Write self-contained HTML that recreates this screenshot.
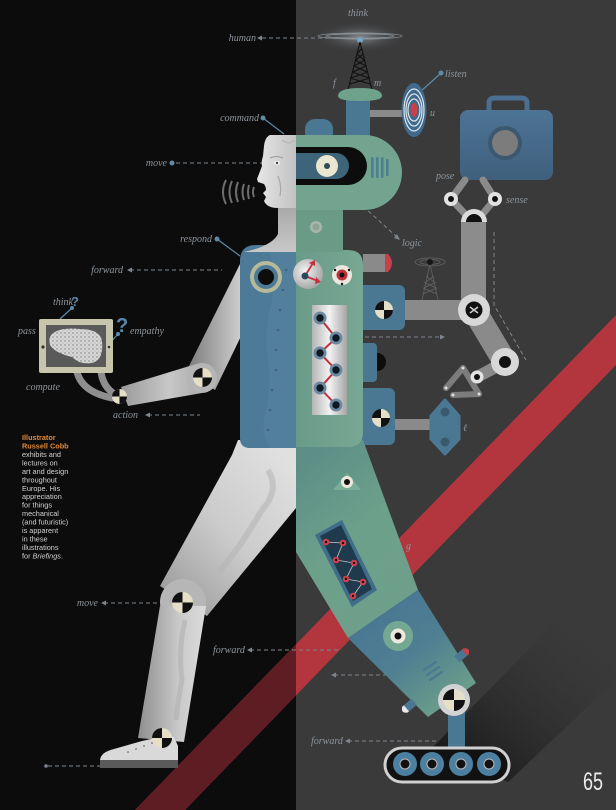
<!DOCTYPE html>
<html><head><meta charset="utf-8"><style>
html,body{margin:0;padding:0;background:#0c0c0d;}
svg{display:block;}
.lb{font-family:"Liberation Serif",serif;font-style:italic;fill:#8e959b;font-size:10px;}
.bt{font-family:"Liberation Sans",sans-serif;font-size:7.3px;fill:#d2d2d2;}
</style></head><body>
<svg width="616" height="810" viewBox="0 0 616 810" xmlns="http://www.w3.org/2000/svg">
<defs>
<symbol id="xd" viewBox="-10 -10 20 20"><circle r="10" fill="#e4dfc6"/><path d="M0,0 L-10,0 A10,10 0 0 1 0,-10 Z" fill="#111"/><path d="M0,0 L10,0 A10,10 0 0 1 0,10 Z" fill="#111"/></symbol>
<clipPath id="leftc"><rect x="0" y="0" width="296" height="810"/></clipPath>
<linearGradient id="shad" x1="470" y1="770" x2="600" y2="620" gradientUnits="userSpaceOnUse"><stop offset="0" stop-color="#1c1c1d"/><stop offset="1" stop-color="#3a3a3b" stop-opacity="0"/></linearGradient>
<linearGradient id="face" x1="0" y1="0" x2="1" y2="0"><stop offset="0" stop-color="#e6e6e6"/><stop offset="1" stop-color="#c2c2c2"/></linearGradient>
<linearGradient id="neck" x1="0" y1="0" x2="0" y2="1"><stop offset="0" stop-color="#a8a8a8"/><stop offset="1" stop-color="#c8c8c8"/></linearGradient>
<linearGradient id="arm" x1="0" y1="0" x2="1" y2="0"><stop offset="0" stop-color="#7a7a7a"/><stop offset="1" stop-color="#d2d2d2"/></linearGradient>
<linearGradient id="fore" x1="0" y1="0" x2="1" y2="0"><stop offset="0" stop-color="#9a9a9a"/><stop offset="0.6" stop-color="#c8c8c8"/><stop offset="1" stop-color="#a9a9a9"/></linearGradient>
<linearGradient id="thigh" x1="160" y1="600" x2="296" y2="470" gradientUnits="userSpaceOnUse"><stop offset="0" stop-color="#9a9a9a"/><stop offset="0.5" stop-color="#cbcbcb"/><stop offset="1" stop-color="#e0e0e0"/></linearGradient>
<linearGradient id="shin" x1="0" y1="0" x2="1" y2="0"><stop offset="0" stop-color="#8e8e8e"/><stop offset="0.6" stop-color="#c9c9c9"/><stop offset="1" stop-color="#dcdcdc"/></linearGradient>
<linearGradient id="panel" x1="0" y1="0" x2="1" y2="0"><stop offset="0" stop-color="#b5b5b5"/><stop offset="0.5" stop-color="#f2f2f2"/><stop offset="1" stop-color="#a5a5a5"/></linearGradient>
<linearGradient id="green" x1="0" y1="0" x2="1" y2="0"><stop offset="0" stop-color="#699b89"/><stop offset="1" stop-color="#78a894"/></linearGradient>
<linearGradient id="rleg" x1="296" y1="470" x2="410" y2="600" gradientUnits="userSpaceOnUse"><stop offset="0" stop-color="#5d8f86"/><stop offset="0.5" stop-color="#6da08b"/><stop offset="1" stop-color="#6e9f8b"/></linearGradient>
<linearGradient id="lleg" x1="383" y1="614" x2="452" y2="700" gradientUnits="userSpaceOnUse"><stop offset="0" stop-color="#4a7893"/><stop offset="0.45" stop-color="#4f7f92"/><stop offset="1" stop-color="#6a9d8a"/></linearGradient>
<linearGradient id="case" x1="0" y1="0" x2="0" y2="1"><stop offset="0" stop-color="#4d7395"/><stop offset="1" stop-color="#3f607d"/></linearGradient>
<radialGradient id="glow" cx="0.5" cy="0.5" r="0.5"><stop offset="0" stop-color="#bfc8cf" stop-opacity="0.55"/><stop offset="1" stop-color="#3a3a3b" stop-opacity="0"/></radialGradient>
<radialGradient id="gauge" cx="0.4" cy="0.4" r="0.6"><stop offset="0" stop-color="#f4f4f4"/><stop offset="1" stop-color="#a9a9a9"/></radialGradient>
<pattern id="speck" width="4" height="4" patternUnits="userSpaceOnUse"><rect width="4" height="4" fill="#d6d6d6"/><circle cx="1" cy="1" r="0.7" fill="#7a7a7a"/><circle cx="3" cy="3" r="0.5" fill="#999"/></pattern>
</defs>

<!-- backgrounds -->
<rect x="0" y="0" width="296" height="810" fill="#0c0c0d"/>
<rect x="296" y="0" width="320" height="810" fill="#3a3a3b"/>

<!-- shadow -->
<polygon points="432,748 616,560 616,680 508,782" fill="url(#shad)"/>

<!-- red stripe -->
<polygon points="616,315 616,365 185,810 135,810" fill="#b3363f"/>
<polygon points="616,315 616,365 185,810 135,810" fill="#5e1c23" clip-path="url(#leftc)"/>

<!-- dashed connectors -->
<g stroke="#7d868e" stroke-width="1" stroke-dasharray="4,3" fill="none">
<line x1="262" y1="38" x2="330" y2="38"/>
<line x1="176" y1="163" x2="264" y2="163"/>
<line x1="130" y1="270" x2="222" y2="270"/>
<line x1="148" y1="415" x2="200" y2="415"/>
<line x1="104" y1="603" x2="158" y2="603"/>
<line x1="48" y1="766" x2="100" y2="766"/>
<line x1="250" y1="650" x2="341" y2="650"/>
<line x1="334" y1="675" x2="390" y2="675"/>
<line x1="348" y1="741" x2="438" y2="741"/>
<line x1="365" y1="337" x2="440" y2="337"/>
<line x1="332" y1="178" x2="398" y2="238"/>
<polyline points="494,232 494,305 526,360"/>
</g>
<g fill="#7d868e">
<polygon points="257,38 262,35.5 262,40.5"/>
<polygon points="127,270 132,267.5 132,272.5"/>
<polygon points="145,415 150,412.5 150,417.5"/>
<polygon points="101,603 106,600.5 106,605.5"/>
<circle cx="46" cy="766" r="1.8"/>
<polygon points="247,650 252,647.5 252,652.5"/>
<polygon points="331,675 336,672.5 336,677.5"/>
<polygon points="345,741 350,738.5 350,743.5"/>
<polygon points="445,337 440,334.5 440,339.5"/>
<polygon points="400,240 394,238 397,234"/>
</g>
<!-- solid connectors with dots -->
<g stroke="#5f8aa6" stroke-width="1.2">
<line x1="263" y1="118" x2="284" y2="134"/>
<line x1="217" y1="239" x2="240" y2="256"/>
<line x1="420" y1="92" x2="440" y2="74"/>
<line x1="72" y1="308" x2="60" y2="319"/>
<line x1="118" y1="334" x2="110" y2="343"/>
</g>
<g fill="#5f8aa6">
<circle cx="263" cy="118" r="2.5"/><circle cx="172" cy="163" r="2.5"/><circle cx="217" cy="239" r="2.5"/>
<circle cx="441" cy="73" r="2.5"/><circle cx="72" cy="308" r="2"/><circle cx="118" cy="334" r="2"/>
</g>

<!-- labels -->
<text class="lb" x="358" y="16" text-anchor="middle" font-size="11">think</text>
<text class="lb" x="256" y="41" text-anchor="end">human</text>
<text class="lb" x="259" y="121" text-anchor="end">command</text>
<text class="lb" x="167" y="166" text-anchor="end">move</text>
<text class="lb" x="212" y="242" text-anchor="end" font-size="9">respond</text>
<text class="lb" x="123" y="273" text-anchor="end">forward</text>
<text class="lb" x="53" y="305" font-size="8">think</text>
<text x="71" y="306" font-family="Liberation Sans,sans-serif" font-weight="bold" font-size="13" fill="#5a86ab">?</text>
<text class="lb" x="18" y="334" font-size="9">pass</text>
<text x="116" y="332" font-family="Liberation Sans,sans-serif" font-weight="bold" font-size="20" fill="#5a86ab">?</text>
<text class="lb" x="130" y="334" font-size="9">empathy</text>
<text class="lb" x="26" y="390">compute</text>
<text class="lb" x="113" y="418">action</text>
<text class="lb" x="98" y="606" text-anchor="end" font-size="9">move</text>
<text class="lb" x="213" y="653" font-size="9">forward</text>
<text class="lb" x="311" y="744" font-size="9">forward</text>
<text class="lb" x="445" y="77">listen</text>
<text class="lb" x="333" y="86">f</text>
<text class="lb" x="374" y="86">m</text>
<text class="lb" x="430" y="116">u</text>
<text class="lb" x="436" y="179" font-size="9">pose</text>
<text class="lb" x="506" y="203" font-size="9">sense</text>
<text class="lb" x="402" y="246" font-size="9">logic</text>
<text class="lb" x="353" y="413" font-size="9">a</text>
<text class="lb" x="463" y="431" font-size="14">ℓ</text>
<text class="lb" x="361" y="486">b</text>
<text class="lb" x="406" y="549">g</text>

<!-- think glow & antenna -->
<ellipse cx="360" cy="37" rx="48" ry="16" fill="url(#glow)"/>
<g fill="none" stroke="#9aa3a9" stroke-width="0.8" opacity="0.8">
<ellipse cx="360" cy="36" rx="42" ry="3"/><ellipse cx="360" cy="36" rx="34" ry="2.2"/>
</g>
<circle cx="360" cy="40" r="3" fill="#6fa6c9"/>
<g stroke="#111" stroke-width="1.1" fill="none">
<polyline points="348,90 360,42 372,90"/>
<path d="M350,84 L370,78 M351,78 L368,72 M353,72 L366,66 M354,66 L365,60 M356,60 L363,54 M357,54 L362,48 M370,84 L350,78 M369,78 L352,72 M367,72 L354,66 M366,66 L355,60 M364,60 L357,54"/>
</g>
<!-- knob / column behind head -->
<rect x="305" y="119" width="28" height="24" rx="10" fill="#4a7893"/>
<rect x="346" y="94" width="24" height="44" fill="#4a7893"/>
<path d="M338,96 Q338,88 360,88 Q382,88 382,96 Q382,101 360,101 Q338,101 338,96 Z" fill="#6fa28c"/>
<rect x="370" y="110" width="34" height="7" fill="#8a8a8a"/>
<ellipse cx="414" cy="110" rx="12.5" ry="27" fill="#3f6a8c"/>
<g fill="none" stroke="#dfe6ec" stroke-width="1.2">
<ellipse cx="414" cy="110" rx="10" ry="21"/><ellipse cx="414" cy="110" rx="8" ry="16"/><ellipse cx="414" cy="110" rx="6" ry="11"/>
</g>
<ellipse cx="414" cy="110" rx="3.5" ry="7" fill="#c8404a"/>

<!-- briefcase & claw -->
<path d="M489,111 V103 Q489,98 495,98 H521 Q527,98 527,103 V111" fill="none" stroke="#4a6f90" stroke-width="5"/>
<rect x="460" y="110" width="93" height="70" rx="8" fill="url(#case)"/>
<circle cx="505" cy="143" r="17" fill="#3b5870"/>
<circle cx="505" cy="143" r="13" fill="#7c7c7c"/>
<g stroke="#8a8a8a" stroke-width="7" stroke-linecap="round">
<line x1="467" y1="216" x2="451" y2="199"/><line x1="451" y1="199" x2="465" y2="180"/>
<line x1="481" y1="216" x2="495" y2="199"/><line x1="495" y1="199" x2="483" y2="180"/>
</g>
<circle cx="451" cy="199" r="7" fill="#e2e2e2"/><circle cx="451" cy="199" r="3" fill="#111"/>
<circle cx="495" cy="199" r="7" fill="#e2e2e2"/><circle cx="495" cy="199" r="3" fill="#111"/>
<rect x="461" y="220" width="25" height="92" fill="#8c8c8c"/>
<path d="M461,222 A13,13 0 0 1 487,222 Z" fill="#dcdcdc"/>
<path d="M466,222 A8,8 0 0 1 482,222 Z" fill="#111"/>

<!-- small tower -->
<g stroke="#5c5c5c" stroke-width="1" fill="none">
<ellipse cx="430" cy="262" rx="15" ry="4"/><ellipse cx="430" cy="262" rx="10" ry="2.5"/>
<polyline points="422,300 430,264 438,300"/>
<path d="M423,294 L437,288 M424,288 L436,282 M426,282 L434,276 M437,294 L423,288 M436,288 L424,282 M434,282 L426,276"/>
</g>
<circle cx="430" cy="262" r="3" fill="#151515"/>

<!-- right arm -->
<rect x="400" y="300" width="74" height="20" fill="#8a8a8a"/>
<line x1="474" y1="310" x2="505" y2="362" stroke="#8a8a8a" stroke-width="24"/>
<line x1="505" y1="362" x2="477" y2="377" stroke="#8a8a8a" stroke-width="12"/>
<circle cx="474" cy="310" r="16" fill="#d8d8d8"/><circle cx="474" cy="310" r="8.5" fill="#111"/>
<path d="M470,307 L478,313 M478,307 L470,313" stroke="#ccc" stroke-width="1.5"/>
<circle cx="505" cy="362" r="14" fill="#d8d8d8"/><circle cx="505" cy="362" r="6" fill="#111"/>
<g stroke="#7c7c7c" stroke-width="6" stroke-linecap="round">
<line x1="463" y1="368" x2="446" y2="388"/><line x1="463" y1="368" x2="479" y2="394"/><line x1="453" y1="395" x2="479" y2="394"/>
</g>
<circle cx="477" cy="377" r="6.5" fill="#e2e2e2"/><circle cx="477" cy="377" r="3" fill="#111"/>
<g fill="#ddd"><circle cx="463" cy="368" r="1.5"/><circle cx="446" cy="388" r="1.5"/><circle cx="453" cy="395" r="1.5"/><circle cx="479" cy="394" r="1.5"/></g>

<!-- side boxes -->
<rect x="363" y="254" width="22" height="18" fill="#8a8a8a"/>
<path d="M385,254 H388 Q396,263 388,272 H385 Z" fill="#c8404a"/>
<rect x="358" y="285" width="47" height="45" rx="6" fill="#4a7893"/>
<use href="#xd" x="375" y="301" width="18" height="18"/>
<path d="M376,353 A9,9 0 0 1 376,371 Z" fill="#0d0d0d"/>
<rect x="358" y="343" width="19" height="39" rx="4" fill="#4a7893"/>
<path d="M377,353 A9,9 0 0 1 377,371 Z" fill="#0d0d0d"/>
<rect x="395" y="419" width="43" height="11" fill="#8a8a8a"/>
<rect x="358" y="388" width="37" height="57" rx="6" fill="#4a7893"/>
<use href="#xd" x="372" y="409" width="18" height="18"/>
<polygon points="445,400 459,416 459,439 445,454 431,439 431,416" fill="#4a7893" stroke="#4a7893" stroke-width="3" stroke-linejoin="round"/>
<circle cx="445" cy="412" r="4.5" fill="#39596f"/><circle cx="445" cy="442" r="4.5" fill="#39596f"/>

<!-- human leg -->
<polygon points="238,440 296,440 296,508 207,616 160,586 232,455" fill="url(#thigh)"/>
<path d="M268,470 Q280,490 262,510 Q250,530 240,545 Q228,560 220,572" stroke="#b5b5b5" stroke-width="6" fill="none" opacity="0.6"/>
<circle cx="183" cy="602" r="23" fill="#b6b6b6"/>
<polygon points="160,606 206,606 184,742 138,738" fill="url(#shin)"/>
<path d="M185,620 Q178,650 182,680 Q178,700 176,720" stroke="#b0b0b0" stroke-width="5" fill="none" opacity="0.6"/>
<use href="#xd" x="172" y="592" width="21" height="21"/>
<path d="M100,760 Q101,752 114,749 L142,741 L160,737 L174,737 L178,746 L178,762 L100,762 Z" fill="#d9d9d9"/>
<rect x="100" y="760" width="78" height="8" fill="#5a5a5a"/>
<g fill="#888"><circle cx="128" cy="752" r="1"/><circle cx="136" cy="749" r="1"/><circle cx="144" cy="746" r="1"/><circle cx="152" cy="743" r="1"/></g>
<use href="#xd" x="152" y="728" width="20" height="20"/>

<!-- robot leg -->
<polygon points="296,440 363,440 418,590 348,638 296,552" fill="url(#rleg)"/>
<polygon points="348,638 418,590 476,683 428,717" fill="url(#lleg)"/>
<path d="M333,490 L347,473 L361,490 Z" fill="#7bae98"/>
<circle cx="347" cy="482" r="6" fill="#ece8dc"/><circle cx="347" cy="482" r="3" fill="#111"/>
<polygon points="315,535 342,520 377,590 352,607" fill="#3f6d8a"/>
<polygon points="320,536 341,525 372,589 353,601" fill="#1f3a4d"/>
<g stroke="#c8c8c8" stroke-width="0.8" fill="none"><polyline points="326,542 343,543 336,560 354,563 346,579 363,582 353,596"/></g>
<g fill="#d2404c"><circle cx="326" cy="542" r="3.3"/><circle cx="343" cy="543" r="3.3"/><circle cx="336" cy="560" r="3.3"/><circle cx="354" cy="563" r="3.3"/><circle cx="346" cy="579" r="3.3"/><circle cx="363" cy="582" r="3.3"/><circle cx="353" cy="596" r="3.3"/></g>
<g fill="#111"><circle cx="326" cy="542" r="1.2"/><circle cx="343" cy="543" r="1.2"/><circle cx="336" cy="560" r="1.2"/><circle cx="354" cy="563" r="1.2"/><circle cx="346" cy="579" r="1.2"/><circle cx="363" cy="582" r="1.2"/><circle cx="353" cy="596" r="1.2"/></g>
<circle cx="398" cy="636" r="15" fill="#74a892"/>
<circle cx="398" cy="636" r="7.5" fill="#ece8dc"/><circle cx="398" cy="636" r="3.5" fill="#111"/>
<g stroke="#4a7893" stroke-width="2.2" stroke-linecap="round">
<line x1="424" y1="670" x2="436" y2="662"/><line x1="427" y1="675" x2="439" y2="667"/><line x1="430" y1="680" x2="442" y2="672"/>
</g>
<g transform="translate(463,654) rotate(-40)"><rect x="-8" y="-4" width="10" height="8" fill="#4a7893"/><path d="M2,-4 H4 Q10,0 4,4 H2 Z" fill="#c8404a"/></g>
<g transform="translate(408,707) rotate(140)"><rect x="-8" y="-4" width="10" height="8" fill="#4a7893"/><path d="M2,-4 H4 Q10,0 4,4 H2 Z" fill="#e8e8e8"/></g>
<rect x="448" y="700" width="17" height="50" fill="#4a7893"/>
<circle cx="454" cy="700" r="16" fill="#d2d2d2"/>
<use href="#xd" x="443" y="689" width="22" height="22"/>
<rect x="385" y="748" width="124" height="34" rx="17" fill="#111" stroke="#d0d0d0" stroke-width="3"/>
<g fill="#4d7fa0"><circle cx="405" cy="764" r="12"/><circle cx="432" cy="764" r="12"/><circle cx="461" cy="764" r="12"/><circle cx="489" cy="764" r="12"/></g>
<g fill="#111" stroke="#bbb" stroke-width="1"><circle cx="405" cy="764" r="5"/><circle cx="432" cy="764" r="5"/><circle cx="461" cy="764" r="5"/><circle cx="489" cy="764" r="5"/></g>

<!-- human upper arm (behind torso) -->
<polygon points="244,256 244,330 215,390 186,372" fill="url(#arm)"/>
<!-- torso -->
<path d="M256,245 H296 V448 H250 Q240,448 240,438 V261 Q240,245 256,245 Z" fill="#4d7a97"/>
<path d="M296,250 H268 Q276,270 272,300 Q264,330 268,360 Q272,390 264,420 Q262,438 270,448 H296 Z" fill="#5785a0" opacity="0.55"/>
<g fill="#3d6581"><circle cx="286" cy="270" r="1.3"/><circle cx="283" cy="290" r="1.3"/><circle cx="280" cy="310" r="1.3"/><circle cx="278" cy="330" r="1.3"/><circle cx="276" cy="350" r="1.3"/><circle cx="276" cy="370" r="1.3"/><circle cx="272" cy="390" r="1.3"/><circle cx="270" cy="410" r="1.3"/><circle cx="268" cy="430" r="1.3"/></g>
<circle cx="266" cy="277" r="16" fill="#b8b999"/>
<circle cx="266" cy="277" r="12" fill="#4d7a97"/>
<circle cx="266" cy="277" r="8" fill="#0d0d0d"/>
<path d="M296,250 H348 Q363,250 363,265 V432 Q363,447 348,447 H296 Z" fill="url(#green)"/>
<rect x="296" y="208" width="47" height="44" fill="#6a9b87"/>
<circle cx="316" cy="227" r="6" fill="#a8b5aa"/><circle cx="316" cy="227" r="3.5" fill="#8fa496"/>
<circle cx="308" cy="274" r="15" fill="url(#gauge)"/>
<g stroke="#c8303c" stroke-width="1.8"><line x1="305" y1="276" x2="313" y2="263"/><line x1="305" y1="276" x2="318" y2="281"/></g>
<polygon points="315,260 309,263 315,266" fill="#c8303c"/>
<polygon points="321,282 316,277 315,284" fill="#c8303c"/>
<circle cx="305" cy="276" r="3.5" fill="#2a4a5c"/>
<circle cx="342" cy="275" r="10" fill="#ebe7df"/>
<circle cx="342" cy="275" r="5.5" fill="#c0303a"/><circle cx="342" cy="275" r="2.5" fill="#111"/>
<g fill="#111"><circle cx="335" cy="270" r="1.2"/><circle cx="349" cy="270" r="1.2"/><circle cx="342" cy="284" r="1.2"/></g>
<rect x="312" y="305" width="35" height="110" fill="url(#panel)"/>
<g stroke="#c0303a" stroke-width="2" fill="none"><polyline points="320,318 336,338 320,353 336,370 320,388 336,405"/></g>
<g fill="#6b8aa2"><circle cx="320" cy="318" r="6.5"/><circle cx="336" cy="338" r="6.5"/><circle cx="320" cy="353" r="6.5"/><circle cx="336" cy="370" r="6.5"/><circle cx="320" cy="388" r="6.5"/><circle cx="336" cy="405" r="6.5"/></g>
<g fill="#0f1820"><circle cx="320" cy="318" r="3.7"/><circle cx="336" cy="338" r="3.7"/><circle cx="320" cy="353" r="3.7"/><circle cx="336" cy="370" r="3.7"/><circle cx="320" cy="388" r="3.7"/><circle cx="336" cy="405" r="3.7"/></g>

<!-- robot head -->
<path d="M296,135 H364.5 A37.5,37.5 0 0 1 364.5,210 H296 Z" fill="#72a48f"/>
<path d="M296,147 H348 A19,19 0 0 1 348,185 H296 Z" fill="#0d0d0d"/>
<path d="M296,153 H336 A13,13 0 0 1 336,179 H296 Z" fill="#3d6478"/>
<circle cx="327" cy="166" r="11" fill="#ebe6cf"/><circle cx="327" cy="166" r="3" fill="#2d4a5a"/>
<g fill="#4b8090"><rect x="371" y="157" width="2.6" height="21" rx="1.3"/><rect x="376" y="157" width="2.6" height="21" rx="1.3"/><rect x="381" y="157" width="2.6" height="21" rx="1.3"/><rect x="386" y="159" width="2.6" height="17" rx="1.3"/></g>

<!-- human head & neck -->
<path d="M278,206 H296 V252 H244 Q272,246 278,234 Z" fill="url(#neck)"/>
<path d="M296,135 H270 Q265,137 264,146 L263,156 Q261,162 262,166 L257,179 L258,182 L264,184 Q266,187 266,190 L263,193 L266,197 L264,201 Q267,208 278,208 H296 Z" fill="url(#face)"/>
<path d="M270,158 Q276,155 283,158" stroke="#9a9a9a" stroke-width="1" fill="none"/>
<ellipse cx="277" cy="163" rx="3" ry="2" fill="#f3f3f3"/><circle cx="277" cy="163" r="1.2" fill="#444"/>
<path d="M278,176 Q282,186 280,196" stroke="#a8a8a8" stroke-width="1.2" fill="none"/>
<path d="M282,140 Q290,146 294,140" stroke="#b0b0b0" stroke-width="1" fill="none"/>
<!-- sound waves -->
<g fill="none" stroke="#6e6e6e" stroke-width="2">
<path d="M226,180 Q220,192 226,204"/><path d="M232,181 Q227,192 232,203"/><path d="M238,182 Q234,192 238,202"/><path d="M244,184 Q241,192 244,200"/><path d="M249,185 Q247,192 249,199"/><path d="M254,187 Q252,192 254,197"/>
</g>

<!-- forearm, hand, tablet -->
<polygon points="196,364 202,393 128,406 121,387" fill="url(#fore)"/>
<circle cx="202" cy="378" r="15" fill="#b5b5b5"/>
<use href="#xd" x="193" y="368" width="19" height="19"/>
<g stroke="#8e8e8e" stroke-width="7" stroke-linecap="round" fill="none">
<path d="M77,372 Q82,392 112,398"/><path d="M101,372 Q103,386 113,393"/>
</g>
<use href="#xd" x="112" y="389" width="15" height="15"/>
<rect x="39" y="319" width="74" height="54" rx="2" fill="#c7c5ab"/>
<rect x="46" y="325" width="60" height="42" fill="#5a5a5a"/>
<path d="M52,334 Q60,327 80,329 Q100,329 102,341 Q104,360 92,363 Q80,365 72,357 Q55,353 50,345 Q48,338 52,334 Z" fill="url(#speck)"/>
<circle cx="43" cy="347" r="1.6" fill="#333"/><circle cx="109" cy="347" r="1.3" fill="#333"/>

<!-- text block -->
<g class="bt">
<text x="22" y="440" font-weight="bold" fill="#e08a3a">Illustrator</text>
<text x="22" y="448.5" font-weight="bold" fill="#e08a3a">Russell Cobb</text>
<text x="22" y="457">exhibits and</text>
<text x="22" y="465.4">lectures on</text>
<text x="22" y="473.9">art and design</text>
<text x="22" y="482.3">throughout</text>
<text x="22" y="490.8">Europe. His</text>
<text x="22" y="499.2">appreciation</text>
<text x="22" y="507.7">for things</text>
<text x="22" y="516.1">mechanical</text>
<text x="22" y="524.6">(and futuristic)</text>
<text x="22" y="533">is apparent</text>
<text x="22" y="541.5">in these</text>
<text x="22" y="549.9">illustrations</text>
<text x="22" y="558.4">for <tspan font-style="italic">Briefings</tspan>.</text>
</g>

<!-- page number -->
<text x="583" y="790" font-family="Liberation Sans Narrow, Liberation Sans, sans-serif" font-size="25" fill="#ececec" textLength="20" lengthAdjust="spacingAndGlyphs">65</text>
</svg>
</body></html>
